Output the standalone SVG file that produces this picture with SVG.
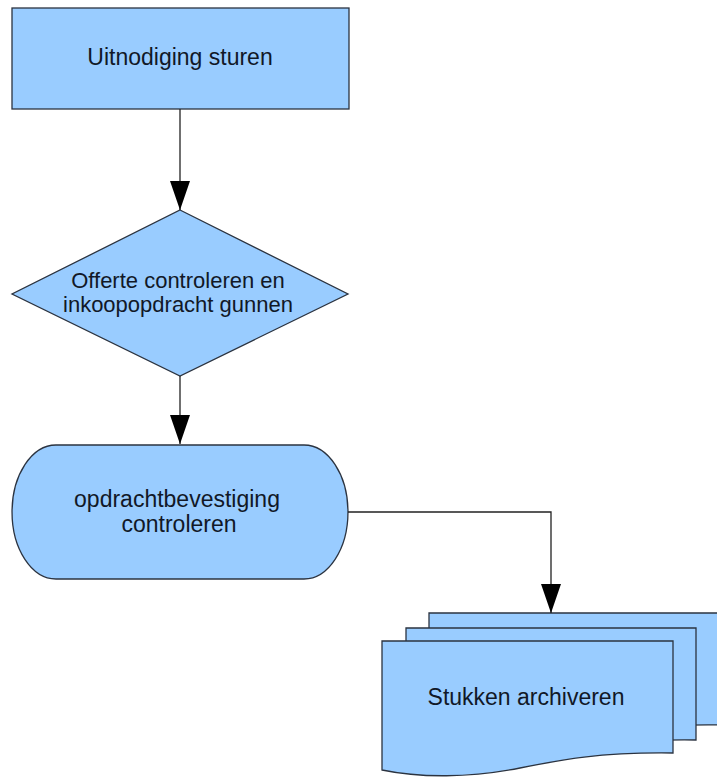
<svg xmlns="http://www.w3.org/2000/svg" width="717" height="778" viewBox="0 0 717 778">
  <style>
    .shape { fill: #99ccff; stroke: #2b3340; stroke-width: 1.3; }
    .label { font-family: "Liberation Sans", Arial, sans-serif; font-size: 23px; fill: #111827; text-anchor: middle; }
    .small { font-size: 22px; }
    .conn { fill: none; stroke: #222; stroke-width: 1.3; }
  </style>
  <defs>
    <marker id="arrow" markerUnits="userSpaceOnUse" markerWidth="29" markerHeight="20" refX="29" refY="10" orient="auto">
      <path d="M0,0 L29,10 L0,20 Z" fill="#000"/>
    </marker>
  </defs>
  <rect width="717" height="778" fill="#ffffff"/>

  <g id="node-uitnodiging">
    <rect class="shape" x="12" y="8" width="337" height="101"/>
    <text class="label" x="180" y="65">Uitnodiging sturen</text>
  </g>

  <g id="node-offerte">
    <polygon class="shape" points="180,210 348,294 180,376 12,294"/>
    <text class="label small" x="178" y="288">Offerte controleren en</text>
    <text class="label small" x="178" y="312">inkoopopdracht gunnen</text>
  </g>

  <g id="node-opdrachtbevestiging">
    <path class="shape" d="M56,445 H304 A44,67 0 0 1 304,579 H56 A44,67 0 0 1 56,445 Z"/>
    <text class="label" x="177" y="507">opdrachtbevestiging</text>
    <text class="label" x="179" y="532">controleren</text>
  </g>

  <g id="node-stukken">
    <path class="shape" d="M429,613 H720 V725 C647,724 607,732 567,740 C517,750 467,750 429,742 Z"/>
    <path class="shape" d="M406,628 H696 V740 C623,739 583,747 543,755 C493,765 443,765 406,757 Z"/>
    <path class="shape" d="M382,641 H673 V753 C600,752 560,760 520,768 C470,778 420,778 382,770 Z"/>
    <text class="label" x="526" y="705">Stukken archiveren</text>
  </g>

  <g id="connectors">
    <line class="conn" x1="180" y1="109" x2="180" y2="210" marker-end="url(#arrow)"/>
    <line class="conn" x1="180" y1="376" x2="180" y2="444" marker-end="url(#arrow)"/>
    <path class="conn" d="M348,512 H551 V613" marker-end="url(#arrow)"/>
  </g>
</svg>
